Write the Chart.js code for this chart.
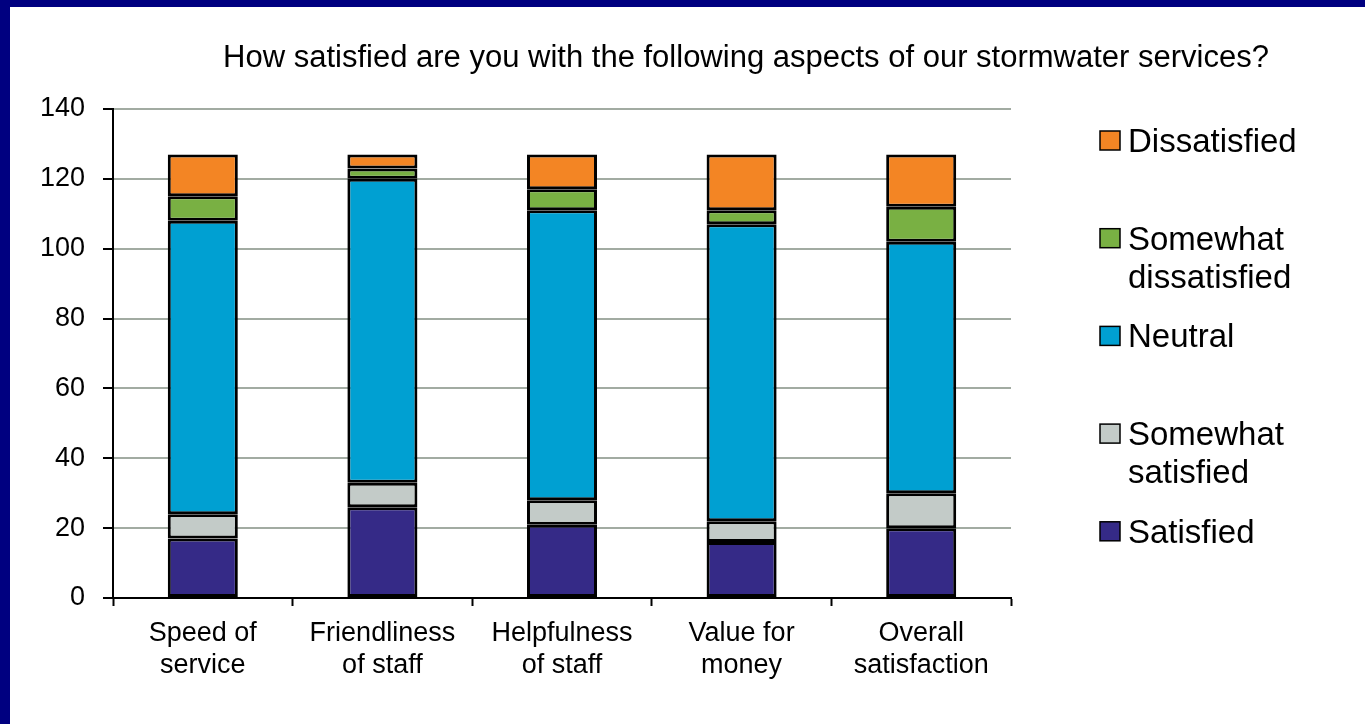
<!DOCTYPE html>
<html lang="en">
<head>
    <meta charset="UTF-8">
    <title>Stormwater services satisfaction</title>
    <style>
        html, body { margin: 0; padding: 0; background: #fff; }
        #wrap { width: 1365px; height: 724px; position: relative; }
    </style>
</head>
<body>
    <div id="wrap">
        <canvas id="myChart"></canvas>
    </div>
    <script src="https://cdn.jsdelivr.net/npm/chart.js"></script>
    <script>
    const chartTitle = 'How satisfied are you with the following aspects of our stormwater services?';
    const categories = [
        ['Speed of', 'service'],
        ['Friendliness', 'of staff'],
        ['Helpfulness', 'of staff'],
        ['Value for', 'money'],
        ['Overall', 'satisfaction']
    ];
    const satisfied = [17, 26, 21, 16, 20];
    const somewhatSatisfied = [7, 7, 7, 6, 10];
    const neutral = [84, 87, 83, 85, 72];
    const somewhatDissatisfied = [7, 3, 6, 4, 10];
    const dissatisfied = [12, 4, 10, 16, 15];
    const yTicks = [0, 20, 40, 60, 80, 100, 120, 140];

    const FONT = '"Liberation Sans", Arial, Helvetica, sans-serif';

    const datasets = [
        { label: ['Satisfied'], data: satisfied, backgroundColor: '#352a87' },
        { label: ['Somewhat', 'satisfied'], data: somewhatSatisfied, backgroundColor: '#c3cbc8' },
        { label: ['Neutral'], data: neutral, backgroundColor: '#00a0d2' },
        { label: ['Somewhat', 'dissatisfied'], data: somewhatDissatisfied, backgroundColor: '#79b043' },
        { label: ['Dissatisfied'], data: dissatisfied, backgroundColor: '#f38524' }
    ].map(ds => Object.assign(ds, {
        borderColor: '#000',
        borderWidth: 3,
        borderSkipped: false,
        categoryPercentage: 1,
        barPercentage: 0.39
    }));

    // frame, title and the right hand legend
    const decor = {
        id: 'decor',
        afterDraw(chart) {
            const ctx = chart.ctx;
            ctx.save();
            ctx.fillStyle = '#000080';
            ctx.fillRect(0, 0, chart.width, 7);
            ctx.fillRect(0, 0, 10, chart.height);

            ctx.fillStyle = '#000';
            ctx.font = '31px ' + FONT;
            ctx.textAlign = 'center';
            ctx.textBaseline = 'alphabetic';
            ctx.fillText(chartTitle, 746, 67);

            ctx.textAlign = 'left';
            ctx.font = '33px ' + FONT;
            const items = chart.data.datasets.slice().reverse();
            items.forEach((ds, i) => {
                const top = 131 + i * 97.7;
                ctx.fillStyle = ds.backgroundColor;
                ctx.fillRect(1100, top, 20, 19);
                ctx.strokeStyle = '#000';
                ctx.lineWidth = 1.5;
                ctx.strokeRect(1100, top, 20, 19);
                ctx.fillStyle = '#000';
                ds.label.forEach((line, j) => {
                    ctx.fillText(line, 1128, top + 21 + j * 38);
                });
            });
            ctx.restore();
        }
    };

    const ctx = document.getElementById('myChart');
    const myChart = new Chart(ctx, {
        type: 'bar',
        data: { labels: categories, datasets: datasets },
        options: {
            responsive: true,
            maintainAspectRatio: false,
            animation: false,
            layout: { padding: { top: 109, right: 354, bottom: 0, left: 0 } },
            plugins: {
                legend: { display: false },
                title: { display: false },
                tooltip: { enabled: false }
            },
            scales: {
                x: {
                    stacked: true,
                    afterFit: s => { s.height = 126; },
                    grid: {
                        offset: true,
                        drawOnChartArea: false,
                        tickLength: 8,
                        tickColor: '#000',
                        tickWidth: 2
                    },
                    border: { color: '#000', width: 2 },
                    ticks: {
                        color: '#000',
                        font: { family: FONT, size: 27 },
                        padding: 11,
                        maxRotation: 0,
                        autoSkip: false
                    }
                },
                y: {
                    stacked: true,
                    min: yTicks[0],
                    max: yTicks[yTicks.length - 1],
                    afterFit: s => { s.width = 113; },
                    afterBuildTicks: s => { s.ticks = yTicks.map(v => ({ value: v })); },
                    grid: {
                        color: '#a2aba2',
                        lineWidth: 2,
                        tickLength: 10,
                        tickColor: '#000',
                        tickWidth: 2
                    },
                    border: { color: '#000', width: 2 },
                    ticks: {
                        color: '#000',
                        font: { family: FONT, size: 27 },
                        padding: 18
                    }
                }
            }
        },
        plugins: [decor]
    });
    </script>
</body>
</html>
